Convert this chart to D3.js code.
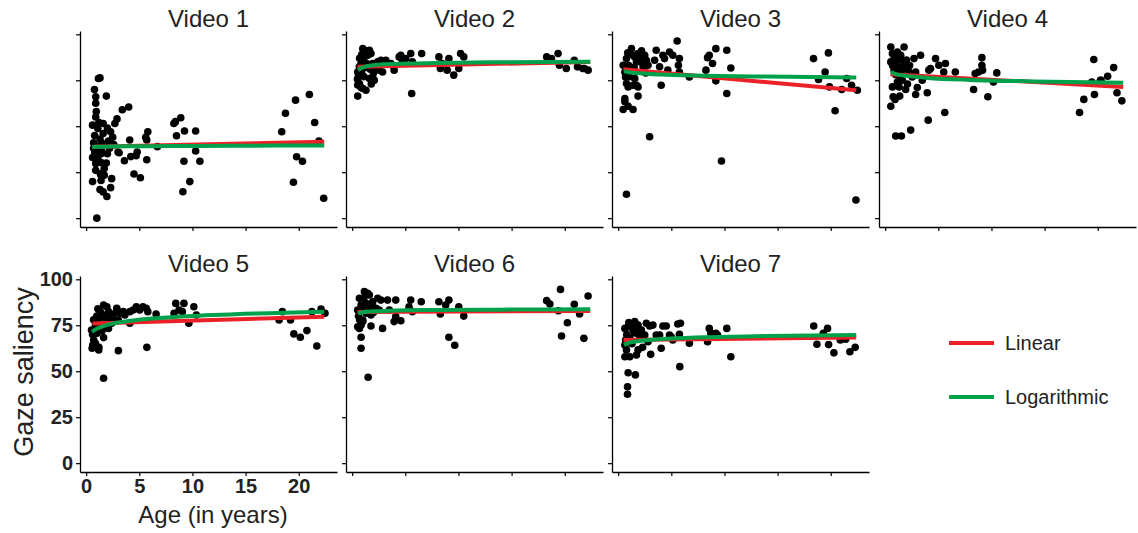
<!DOCTYPE html>
<html>
<head>
<meta charset="utf-8">
<script src="https://cdn.jsdelivr.net/npm/d3@7"></script>
<style>
  body { margin: 0; background: #fff; }
  svg { display: block; font-family: "Liberation Sans", Arial, Helvetica, sans-serif; }
</style>
</head>
<body>
<svg id="chart" width="1138" height="533"></svg>
<script>
// panel titles, ticks
var videoTitles = ["Video 1", "Video 2", "Video 3", "Video 4", "Video 5", "Video 6", "Video 7"];
var xTicks = [0, 5, 10, 15, 20];
var yTicks = [0, 25, 50, 75, 100];

// [age, gaze saliency] per video
var video1 = [[1.15,76],[1.3,76.3],[0.78,70],[0.9,66],[0.9,62.5],[0.95,58],[1.9,66.4],[0.6,50.6],[1.1,48.8],[1.6,51.5],[2.7,51.5],[2.3,47],[2.5,44],[3.4,59],[4.0,60.5],[4.1,42.5],[5.8,47],[5.6,44],[5.7,42.5],[6.7,38.9],[1.3,43],[1.45,41],[1.0,39],[0.8,36],[0.6,33],[1.4,35],[2.0,35],[3.1,35.6],[0.9,29.8],[1.4,30.2],[1.7,27],[1.4,24.3],[1.7,23.4],[1.35,23.8],[3.6,31.2],[4.2,33.5],[4.7,34],[4.8,36],[5.7,31.8],[4.5,24],[5.1,22],[0.6,19.9],[2.4,21.5],[2.3,16.6],[1.3,15.6],[1.6,14.3],[1.95,11.8],[1.0,0],[8.25,51.5],[8.4,52.5],[8.9,54.6],[8.5,44.8],[9.25,47.4],[10.3,47.4],[10.3,36.5],[9.2,31],[10.7,31],[9.75,19.9],[9.1,14.4],[18.4,47],[18.75,57],[19.7,64.2],[21.0,67.3],[21.5,52],[21.9,42],[19.8,33.4],[20.35,31],[19.5,19.5],[22.35,10.8],[0.7,38],[1.2,37],[1.5,36],[1.8,40],[2.1,42],[0.8,45],[1.6,46],[2.2,38],[1.1,33],[0.7,41],[1.9,30],[2.6,40],[3.0,36],[1.2,52],[0.9,55],[2.0,49],[2.9,54],[1.4,20.5],[0.9,26]];
var video2 = [[0.52,66.4],[0.5,75.6],[0.52,72.4],[0.68,73.2],[0.84,71.1],[1.3,69.6],[1.62,76],[2.08,75],[1.93,76.8],[0.52,79.5],[0.68,82.3],[0.84,84.1],[1.0,87.7],[1.15,91.3],[1.3,90.4],[1.62,91.3],[1.77,89.5],[1.0,92.2],[1.46,88.6],[1.93,84.1],[2.24,82.3],[2.55,80.5],[2.86,79.5],[2.4,85],[2.71,85.9],[3.02,85],[3.17,85.9],[3.8,83.2],[3.95,80.5],[3.64,84.1],[4.42,87.7],[4.73,85.9],[5.04,86.8],[4.58,88.6],[5.51,89.5],[5.67,85],[6.54,89.5],[5.6,67.8],[8.16,87.7],[8.3,81.4],[8.47,84.1],[8.94,80.5],[9.1,86.8],[9.56,77.8],[10.03,81.4],[10.2,89.5],[10.5,87.7],[18.3,87.7],[18.75,86.8],[19.37,89.5],[19.5,83.2],[20.15,81.4],[20.9,85.9],[21.2,82.3],[21.7,81.4],[22.2,80.5],[21.85,81.4],[0.7,87],[0.9,89],[1.1,86],[1.2,82],[0.6,78],[0.9,80],[1.4,84],[1.7,81],[2.0,79],[1.1,77],[1.8,73],[1.0,70.5]];
var video3 = [[0.78,13],[2.96,44.3],[9.72,31.1],[22.37,9.9],[20.41,58.4],[10.22,67.8],[9.19,74.7],[10.6,81.7],[8.26,80.5],[8.41,87.3],[8.57,88.6],[8.88,84.1],[9.19,92.2],[10.22,91.3],[18.38,86.8],[18.85,75.4],[19.47,79.5],[19.78,89.9],[19.88,71.4],[21.03,70],[21.5,76],[21.96,72.3],[22.5,69.6],[0.47,83.2],[0.63,79.5],[0.69,76.8],[0.78,73.2],[0.94,71.4],[0.63,65.1],[0.63,63.3],[0.47,59.1],[0.94,60.9],[1.4,59.1],[0.78,86.8],[1.09,89.5],[1.25,92.2],[1.4,88.6],[1.56,87.7],[1.72,85],[1.87,89.5],[2.03,87.7],[2.18,85],[2.34,82.3],[2.5,88.6],[2.65,85.9],[2.81,83.2],[1.87,66.4],[1.56,76],[1.4,72.3],[1.72,72.3],[1.87,71.4],[3.43,85.9],[3.58,91.3],[3.9,82.3],[4.05,72.3],[4.21,88.6],[4.36,86.8],[4.67,80.5],[4.83,90.4],[5.14,88.6],[5.55,96.4],[5.76,86.8],[5.67,83.2],[5.76,79.5],[6.7,76.8],[1.0,83],[1.2,80],[0.9,90],[1.5,82],[2.2,91],[1.1,77],[2.6,79]];
var video4 = [[0.53,93.1],[0.68,89.5],[0.84,86.8],[1.15,90.4],[1.46,88.6],[1.78,93.1],[1.62,85.9],[1.93,83.2],[1.31,82.3],[0.99,84.1],[0.53,85],[0.84,80.5],[1.46,79.5],[2.24,79.5],[2.55,76.8],[2.71,86.8],[2.87,79.5],[3.33,88.6],[3.49,75],[1.62,75],[1.15,74.1],[1.31,71.4],[0.68,71.4],[1.93,70],[0.75,66],[0.53,60.9],[0.93,64.6],[1.37,66.4],[2.87,67.3],[3.02,71.1],[3.96,68.2],[4.11,80.5],[4.27,81.4],[4.74,86.8],[5.05,83.2],[5.51,79.5],[5.67,84.1],[6.6,79.5],[0.99,44.7],[1.53,44.7],[2.4,47.9],[4.05,53.3],[5.61,57.5],[8.32,70],[8.47,78.7],[8.78,79.5],[9.1,83.2],[9.1,87.3],[9.16,80.5],[9.66,66],[10.19,74.1],[10.5,79],[18.29,57.5],[18.69,64.6],[19.44,74.1],[19.69,67.3],[19.63,86.3],[20.25,75],[20.93,77.2],[21.5,81.9],[21.81,68.2],[22.27,63.8],[20.31,75],[1.0,78],[1.2,87],[0.7,83],[1.7,81],[2.0,86],[2.3,83],[1.4,77],[2.1,73]];
var video5 = [[1.64,46.2],[3.03,61.2],[5.71,63],[21.7,63.7],[0.62,64.3],[0.56,62.5],[0.87,65.2],[1.18,61.6],[0.71,67],[1.02,70.6],[0.5,72.4],[1.64,68.3],[0.87,75.1],[1.18,77.9],[1.48,79.7],[1.79,80.6],[1.33,82.4],[1.64,86],[1.95,85.1],[2.1,82.4],[2.26,78.8],[2.41,76.1],[2.57,77.9],[2.72,81.5],[2.88,84.2],[3.18,81.5],[3.03,77.9],[3.49,82.4],[3.64,80.6],[4.11,82.4],[4.42,83.3],[4.72,85.1],[5.03,83.3],[5.34,85.1],[5.65,84.2],[5.8,82.4],[4.11,76.1],[2.88,83.3],[1.79,74.6],[2.1,73.3],[6.58,81.1],[8.27,81.5],[8.43,86.9],[8.74,83.3],[9.2,86.9],[9.05,82.4],[10.13,85.1],[9.66,76.1],[10.37,80.6],[18.15,77.9],[18.46,82.4],[19.23,77.9],[19.54,70.3],[20.15,68.5],[20.77,72.1],[21.24,82.4],[22.1,83.8],[22.47,81.5],[0.7,78],[1.0,80],[0.9,73],[1.3,75],[1.5,72],[0.6,70],[1.1,84],[2.3,80],[1.9,78],[1.2,63]];
var video6 = [[1.5,46.7],[0.84,62.5],[0.84,68.5],[0.52,74.2],[0.68,73.3],[0.84,75.1],[1.0,77],[1.77,74.6],[2.86,73.3],[9.1,68.5],[9.65,64.1],[19.7,69.2],[20.25,76.4],[21.8,67.9],[19.6,94.5],[22.2,90.9],[18.3,88.4],[18.6,86.6],[19.4,82.9],[20.9,86.4],[21.4,81.1],[10.5,80],[10.03,85.1],[9.1,88.7],[8.8,86],[8.3,81.1],[8.16,87.8],[6.5,87.8],[5.51,88.7],[5.67,82.4],[5.35,85.1],[4.58,77.5],[3.95,77],[4.1,79.7],[3.5,83.3],[4.1,88.7],[3.33,88.7],[2.7,88.7],[2.55,83.3],[2.4,89.7],[1.93,87.8],[1.62,91.5],[1.15,93.3],[1.46,92.4],[0.68,89.7],[0.52,83.3],[0.84,86],[1.15,86],[1.3,81.5],[1.77,80.6],[1.0,77.9],[1.93,85.1],[2.24,84.2],[0.6,80],[0.9,84],[1.1,90],[1.3,87],[0.7,78],[1.6,84],[2.0,82]];
var video7 = [[0.88,37.5],[0.88,41.6],[0.94,49.2],[1.62,48],[5.8,52.5],[10.6,57.9],[0.63,57.9],[1.09,57.9],[0.78,61.6],[1.72,58.8],[1.87,61.6],[3.06,59.2],[4.05,62.5],[2.81,66.1],[0.63,64.3],[0.63,73.3],[0.94,74.2],[1.25,75.1],[1.56,77],[1.87,75.1],[1.4,72.4],[1.72,70.6],[2.03,68.8],[2.18,72.4],[2.5,69.7],[2.65,76.1],[2.96,74.6],[3.27,75.1],[3.58,69.7],[3.9,69.7],[4.21,74.6],[4.52,74.6],[4.83,69.7],[4.99,68.8],[5.14,67],[5.61,75.7],[5.76,70.1],[5.86,76.1],[6.7,65.2],[8.41,66.1],[8.57,73.3],[8.72,70.6],[9.19,70.6],[9.35,69.7],[10.22,73.3],[18.4,74.6],[18.7,64.7],[19.3,70.6],[19.7,73.3],[19.8,64.5],[20.3,60],[20.9,67],[21.4,67.4],[21.8,60.6],[22.3,63],[21.0,67.9],[0.8,70],[1.1,68],[1.3,65],[0.7,67],[1.5,71],[2.3,63],[1.0,76.5],[1.9,72]];
var videoPoints = [video1, video2, video3, video4, video5, video6, video7];

// fitted lines: linear = [age, value] at both ends
var linearFits = [
  [[0.6,38.9],[22.4,41.6]],
  [[0.5,82.3],[22.4,85.0]],
  [[0.5,81.0],[22.4,69.6]],
  [[0.5,78.3],[22.4,71.4]],
  [[0.6,76.0],[22.4,79.6]],
  [[0.5,82.2],[22.4,82.8]],
  [[0.5,67.0],[22.4,68.4]]
];
// logarithmic fit, value at each of logAges
var logAges = [0.55, 1, 2, 4, 8, 14, 22.4];
var logFits = [
  [38.7, 38.8, 38.9, 39.1, 39.2, 39.4, 39.5],
  [80.5, 82.0, 83.2, 83.9, 84.4, 84.8, 85.1],
  [80.0, 79.4, 78.8, 78.1, 77.5, 77.0, 76.5],
  [79.5, 78.4, 77.4, 76.3, 75.2, 74.4, 73.6],
  [71.5, 73.1, 75.2, 77.3, 79.4, 81.0, 82.4],
  [81.5, 82.1, 82.6, 83.0, 83.3, 83.5, 83.7],
  [64.3, 65.4, 66.5, 67.5, 68.5, 69.2, 69.7]
];
var legendLabels = ["Linear", "Logarithmic"];

var RED = "#ec2127", GREEN = "#00a14b";
var colLeft = [80, 346, 612, 879];
var panelW = 257;
var rowTop = [31, 276], panelH = 196;

var svg = d3.select("#chart");

videoTitles.forEach(function(title, i){
  var row = Math.floor(i / 4), col = i % 4;
  var left = colLeft[col], top = rowTop[row], bottom = top + panelH;
  var showLabels = (i === 4); // only Video 5 carries the tick labels

  var x = d3.scaleLinear().domain([-0.58, 23.6]).range([left, left + panelW]);
  var y = d3.scaleLinear().domain([-4.8, 101.8]).range([bottom, top]);

  var g = svg.append("g").attr("class", "panel");

  var xAxis = g.append("g")
    .attr("transform", "translate(0," + bottom + ")")
    .call(d3.axisBottom(x).tickValues(xTicks).tickSize(4).tickSizeOuter(0)
      .tickFormat(showLabels ? d3.format("d") : ""));
  var yAxis = g.append("g")
    .attr("transform", "translate(" + left + ",0)")
    .call(d3.axisLeft(y).tickValues(yTicks).tickSize(4).tickSizeOuter(0)
      .tickFormat(showLabels ? d3.format("d") : ""));

  [xAxis, yAxis].forEach(function(a){
    a.select(".domain").attr("stroke", "#000").attr("stroke-width", 1.3);
    a.selectAll(".tick line").attr("stroke", "#000").attr("stroke-width", 1.2);
    a.selectAll(".tick text")
      .attr("fill", "#222").attr("font-size", 20).attr("font-weight", "bold")
      .attr("font-family", "'Liberation Sans', Arial, sans-serif");
  });
  xAxis.selectAll(".tick text").attr("y", 7);
  yAxis.selectAll(".tick text").attr("x", -7);

  g.append("text")
    .attr("x", left + panelW / 2)
    .attr("y", top - 4)
    .attr("text-anchor", "middle")
    .attr("font-size", 24)
    .attr("fill", "#222")
    .text(title);

  // points
  g.selectAll("circle")
    .data(videoPoints[i])
    .enter()
    .append("circle")
    .attr("cx", function(d){ return x(d[0]); })
    .attr("cy", function(d){ return y(d[1]); })
    .attr("r", 3.8)
    .attr("fill", "#000");

  var line = d3.line()
    .x(function(d){ return x(d[0]); })
    .y(function(d){ return y(d[1]); });

  g.append("path")
    .attr("d", line(linearFits[i]))
    .attr("fill", "none")
    .attr("stroke", RED)
    .attr("stroke-width", 4);

  var logPts = logAges.map(function(a, k){ return [a, logFits[i][k]]; });
  g.append("path")
    .attr("d", line.curve(d3.curveMonotoneX)(logPts))
    .attr("fill", "none")
    .attr("stroke", GREEN)
    .attr("stroke-width", 4);
});

// axis titles
svg.append("text")
  .attr("x", 213).attr("y", 523)
  .attr("text-anchor", "middle")
  .attr("font-size", 24)
  .attr("fill", "#222")
  .text("Age (in years)");

svg.append("text")
  .attr("transform", "translate(33,372) rotate(-90)")
  .attr("text-anchor", "middle")
  .attr("font-size", 27)
  .attr("fill", "#222")
  .text("Gaze saliency");

// legend
var legend = svg.append("g").attr("transform", "translate(949,343)");
legendLabels.forEach(function(lab, k){
  var ly = k * 54;
  legend.append("line")
    .attr("x1", 0).attr("x2", 45)
    .attr("y1", ly).attr("y2", ly)
    .attr("stroke", k === 0 ? RED : GREEN)
    .attr("stroke-width", 4);
  legend.append("text")
    .attr("x", 56).attr("y", ly)
    .attr("dy", "0.36em")
    .attr("font-size", 20)
    .attr("fill", "#222")
    .text(lab);
});
</script>
</body>
</html>
